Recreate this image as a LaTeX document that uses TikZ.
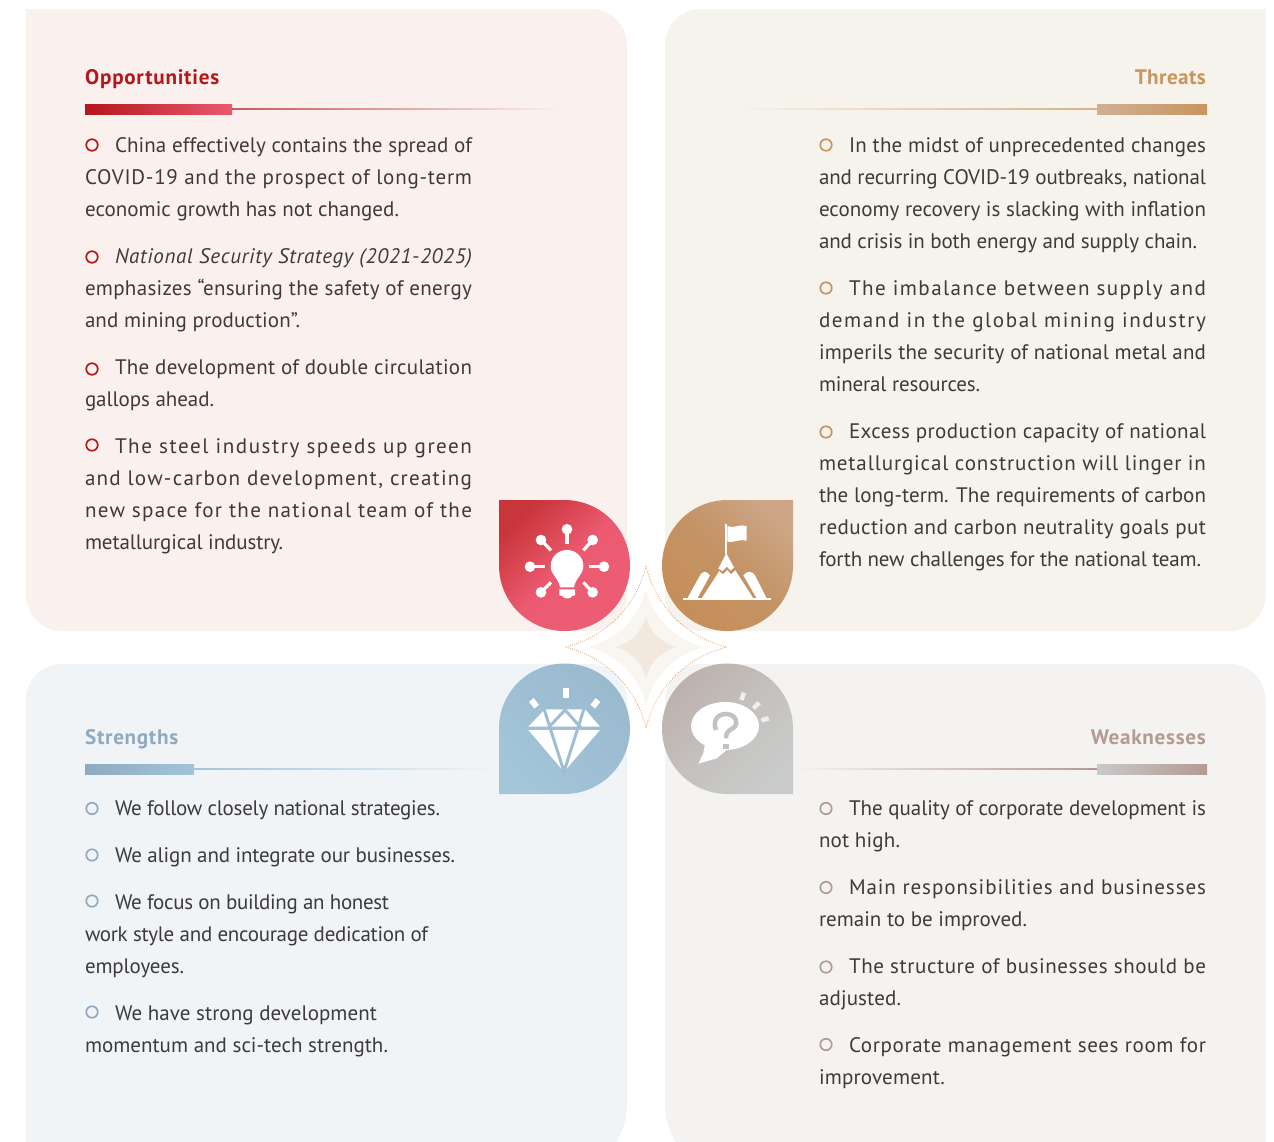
\documentclass[tikz,border=0pt]{standalone}
\usepackage{graphicx}
\usepackage{fontspec}
\setmainfont{PT Sans}
\definecolor{txt}{HTML}{3E3A39}
\definecolor{pO}{HTML}{FAF1EF}
\definecolor{pT}{HTML}{F6F2EC}
\definecolor{pS}{HTML}{F1F4F7}
\definecolor{pW}{HTML}{F5F3F1}
\definecolor{cO}{HTML}{B5161B}
\definecolor{cO2}{HTML}{EA5A70}
\definecolor{cT}{HTML}{C8955F}
\definecolor{cT2}{HTML}{CFB094}
\definecolor{cS}{HTML}{8FAAC0}
\definecolor{cS2}{HTML}{A2C4D8}
\definecolor{cW}{HTML}{B39A92}
\definecolor{cW2}{HTML}{C8C9C9}
\definecolor{dotc}{HTML}{D8935C}
\definecolor{stA}{HTML}{F9F5F0}
\definecolor{stB}{HTML}{F3E8DD}
\definecolor{dRa}{HTML}{C8353A}
\definecolor{dRb}{HTML}{EC5D73}
\definecolor{dRm}{HTML}{EB5A70}
\definecolor{dBa}{HTML}{CBA585}
\definecolor{dBb}{HTML}{C58F5A}
\definecolor{dBm}{HTML}{C49263}
\definecolor{dLa}{HTML}{9ABACE}
\definecolor{dLb}{HTML}{A3C5D9}
\definecolor{dLm}{HTML}{9EBFD3}
\definecolor{dGa}{HTML}{BDB1AD}
\definecolor{dGb}{HTML}{C9CBCA}
\definecolor{dGm}{HTML}{C4C1BE}
\definecolor{rayc}{HTML}{F0EFEE}
\newbox\fitbox
\ExplSyntaxOn
\cs_new:Npn \charcnt #1 {\tl_count:n {#1}}
\ExplSyntaxOff
\newcommand\fitl[2]{\rule[-9.6pt]{0pt}{32pt}\setbox\fitbox\hbox{#2}%
  \pgfmathsetmacro\lsp{(#1-\the\wd\fitbox)*100/(\charcnt{#2}*21)}%
  \edef\lsptmp{\noexpand\addfontfeatures{LetterSpace=\lsp}}%
  \resizebox{#1pt}{\height}{\lsptmp #2}}
\newcommand\ind{\hspace*{30pt}}
\newcommand\starshape[1]{%
  (646,647-#1) .. controls (646+0.12*#1,647-0.5*#1) and (646+0.5*#1,647-0.12*#1) .. (646+#1,647)
  .. controls (646+0.5*#1,647+0.12*#1) and (646+0.12*#1,647+0.5*#1) .. (646,647+#1)
  .. controls (646-0.12*#1,647+0.5*#1) and (646-0.5*#1,647+0.12*#1) .. (646-#1,647)
  .. controls (646-0.5*#1,647-0.12*#1) and (646-0.12*#1,647-0.5*#1) .. (646,647-#1) -- cycle}
\tikzset{
  para/.style={anchor=north west,yshift=-14pt,inner sep=0pt,outer sep=0pt,align=left,text=txt,font=\fontsize{21}{32}\selectfont},
  ttlw/.style={anchor=base west,inner sep=0pt,font=\fontsize{21}{32}\selectfont\bfseries},
  ttle/.style={anchor=base east,inner sep=0pt,font=\fontsize{21}{32}\selectfont\bfseries},
  bul/.style={circle,draw=#1,line width=1.7pt,fill=none,minimum size=11.5pt,inner sep=0pt},
  zoomed/.style={shift={(490,490)},x=0.33333pt,y=-0.33333pt},
}
\begin{document}
\begin{tikzpicture}[x=1pt,y=-1pt]
\useasboundingbox (0,0) rectangle (1274,1141);
\fill[white] (0,0) rectangle (1274,1141);
\begin{scope}
\clip (0,0) rectangle (1274,1141);
\fill[pO] (26,9) -- (591,9) .. controls (610.9,9) and (627,25.1) .. (627,45) -- (627,595) .. controls (627,614.9) and (610.9,631) .. (591,631) -- (62,631) .. controls (42.1,631) and (26,614.9) .. (26,595) -- cycle;
\fill[pT] (1265.5,9) -- (1265.5,595) .. controls (1265.5,614.9) and (1249.4,631) .. (1229.5,631) -- (701,631) .. controls (681.1,631) and (665,614.9) .. (665,595) -- (665,45) .. controls (665,25.1) and (681.1,9) .. (701,9) -- cycle;
\fill[pS] (26,1158) -- (26,700) .. controls (26,680.1) and (42.1,664) .. (62,664) -- (591,664) .. controls (610.9,664) and (627,680.1) .. (627,700) -- (627,1103) .. controls (627,1133.4) and (610.4,1158) .. (590,1158) -- cycle;
\fill[pW] (1265.5,1158) -- (1265.5,700) .. controls (1265.5,680.1) and (1249.4,664) .. (1229.5,664) -- (701,664) .. controls (681.1,664) and (665,680.1) .. (665,700) -- (665,1103) .. controls (665,1133.4) and (681.6,1158) .. (702,1158) -- cycle;
\end{scope}
% rules
\shade[left color=cO,right color=cO2] (85,104) rectangle (232,114);
\shade[left color=cO!70!pO,right color=pO] (232,108) rectangle (562,109.5);
\shade[left color=cT2,right color=cT] (1097,104) rectangle (1207,114);
\shade[left color=pT,right color=cT!70!pT] (735,108) rectangle (1097,109.5);
\shade[left color=cS,right color=cS2] (85,764) rectangle (194,774);
\shade[left color=cS2,right color=pS] (194,768.3) rectangle (499,769.8);
\shade[left color=cW2,right color=cW] (1097,764) rectangle (1207,774);
\shade[left color=pW,right color=cW] (793,768.3) rectangle (1097,769.8);
% titles
\node[ttlw,text=cO] (tO) at (85,84) {\fitl{134}{Opportunities}};
\node[ttle,text=cT] (tT) at (1206,84) {\fitl{71}{Threats}};
\node[ttlw,text=cS] (tS) at (85,744) {\fitl{93}{Strengths}};
\node[ttle,text=cW] (tW) at (1206,744) {\fitl{115}{Weaknesses}};
% Opportunities
\node[bul=cO] (bO1) at (92,145) {};
\node[para] (O1) at (85,115.6) {\ind\fitl{357}{China effectively contains the spread of}\\\fitl{387}{COVID-19 and the prospect of long-term}\\\fitl{314}{economic growth has not changed.}};
\node[bul=cO] (bO2) at (92,257) {};
\node[para] (O2) at (85,226.6) {\ind{\itshape\fitl{357}{National Security Strategy (2021-2025)}}\\\fitl{387}{emphasizes “ensuring the safety of energy}\\\fitl{215}{and mining production”.}};
\node[bul=cO] (bO3) at (92,369) {};
\node[para] (O3) at (85,337.6) {\ind\fitl{357}{The development of double circulation}\\\fitl{129}{gallops ahead.}};
\node[bul=cO] (bO4) at (92,445) {};
\node[para] (O4) at (85,416.6) {\ind\fitl{357}{The steel industry speeds up green}\\\fitl{387}{and low-carbon development, creating}\\\fitl{387}{new space for the national team of the}\\\fitl{198}{metallurgical industry.}};
% Threats
\node[bul=cT] (bT1) at (826,145) {};
\node[para] (T1) at (819,115.6) {\ind\fitl{357}{In the midst of unprecedented changes}\\\fitl{387}{and recurring COVID-19 outbreaks, national}\\\fitl{387}{economy recovery is slacking with inflation}\\\fitl{378}{and crisis in both energy and supply chain.}};
\node[bul=cT] (bT2) at (826,288) {};
\node[para] (T2) at (819,258.6) {\ind\fitl{357}{The imbalance between supply and}\\\fitl{387}{demand in the global mining industry}\\\fitl{387}{imperils the security of national metal and}\\\fitl{161}{mineral resources.}};
\node[bul=cT] (bT3) at (826,432) {};
\node[para] (T3) at (819,401.6) {\ind\fitl{357}{Excess production capacity of national}\\\fitl{387}{metallurgical construction will linger in}\\\fitl{387}{the long-term. The requirements of carbon}\\\fitl{387}{reduction and carbon neutrality goals put}\\\fitl{382}{forth new challenges for the national team.}};
% Strengths
\node[bul=cS] (bS1) at (92,808.5) {};
\node[para] (S1) at (85,778.6) {\ind\fitl{325}{We follow closely national strategies.}};
\node[bul=cS] (bS2) at (92,855) {};
\node[para] (S2) at (85,825.6) {\ind\fitl{340}{We align and integrate our businesses.}};
\node[bul=cS] (bS3) at (92,901) {};
\node[para] (S3) at (85,872.6) {\ind\fitl{274}{We focus on building an honest}\\\fitl{343}{work style and encourage dedication of}\\\fitl{99}{employees.}};
\node[bul=cS] (bS4) at (92,1012) {};
\node[para] (S4) at (85,983.6) {\ind\fitl{262}{We have strong development}\\\fitl{303}{momentum and sci-tech strength.}};
% Weaknesses
\node[bul=cW] (bW1) at (826,808.5) {};
\node[para] (W1) at (819,778.6) {\ind\fitl{357}{The quality of corporate development is}\\\fitl{81}{not high.}};
\node[bul=cW] (bW2) at (826,887.5) {};
\node[para] (W2) at (819,857.6) {\ind\fitl{357}{Main responsibilities and businesses}\\\fitl{208}{remain to be improved.}};
\node[bul=cW] (bW3) at (826,967) {};
\node[para] (W3) at (819,936.6) {\ind\fitl{357}{The structure of businesses should be}\\\fitl{82}{adjusted.}};
\node[bul=cW] (bW4) at (826,1044.5) {};
\node[para] (W4) at (819,1015.6) {\ind\fitl{357}{Corporate management sees room for}\\\fitl{126}{improvement.}};
% star
\fill[stA] \starshape{58};
\fill[stB] \starshape{31};
\draw[dotc,line width=1pt,line cap=round,dash pattern=on 0pt off 2.2pt] \starshape{81};
% drops
\shade[top color=dRa,bottom color=dRb,middle color=dRm,shading angle=45]
 (499,500) -- (564.5,500) .. controls (600.7,500) and (630,529.3) .. (630,565.5) .. controls (630,601.7) and (600.7,631) .. (564.5,631) .. controls (528.3,631) and (499,601.7) .. (499,565.5) -- cycle;
\shade[top color=dBa,bottom color=dBb,middle color=dBm,shading angle=-45]
 (793,500) -- (727.5,500) .. controls (691.3,500) and (662,529.3) .. (662,565.5) .. controls (662,601.7) and (691.3,631) .. (727.5,631) .. controls (763.7,631) and (793,601.7) .. (793,565.5) -- cycle;
\shade[top color=dLa,bottom color=dLb,middle color=dLm,shading angle=-45]
 (499,794) -- (564.5,794) .. controls (600.7,794) and (630,764.7) .. (630,728.5) .. controls (630,692.3) and (600.7,663.5) .. (564.5,663.5) .. controls (528.3,663.5) and (499,692.3) .. (499,728.5) -- cycle;
\shade[top color=dGa,bottom color=dGb,middle color=dGm,shading angle=45]
 (793,794) -- (727.5,794) .. controls (691.3,794) and (662,764.7) .. (662,728.5) .. controls (662,692.3) and (691.3,663.5) .. (727.5,663.5) .. controls (763.7,663.5) and (793,692.3) .. (793,728.5) -- cycle;
% icons (zoomed frame)
\begin{scope}[zoomed]
% bulb
\fill[white] (210,292) .. controls (205,262) and (182,255) .. (182,228) .. controls (182,200) and (205,180) .. (231,180) .. controls (257,180) and (280,200) .. (280,228) .. controls (280,255) and (257,262) .. (252,292) -- cycle;
\fill[white] (208,298) -- (255,298) -- (255,316) -- (246,318) .. controls (242,328) and (222,328) .. (217,318) -- (208,316) -- cycle;
\foreach \bx/\by/\ex/\ey in {231/118/231/163,342/230/298/230,120/230/165/230,308/150/280/181,153/150/183/181,153/307/183/277,308/307/280/277}{
  \fill[white] (\bx,\by) circle[radius=16];
  \draw[white,line width=3.2pt] (\bx,\by) -- (\ex,\ey);
}
% mountain
\fill[white] (578,325) rectangle (842,330);
\fill[white] (706,102) rectangle (712,192);
\fill[white] (712,108) .. controls (730,118) and (750,100) .. (770,108) -- (770,152) .. controls (750,145) and (730,160) .. (712,155) -- cycle;
\fill[white] (709,190) -- (732,232) -- (722,242) -- (711,230) -- (698,243) -- (685,236) -- cycle;
\fill[white] (688,243) -- (699,253) -- (712,240) -- (723,253) -- (736,241) -- (790,325) -- (635,325) -- cycle;
\fill[white] (592,325) -- (630,256) .. controls (637,243) and (650,241) .. (660,256) -- (622,325) -- cycle;
\fill[white] (830,325) -- (795,256) .. controls (788,243) and (770,241) .. (760,256) -- (800,325) -- cycle;
% diamond
\fill[white] (165,658) -- (285,658) -- (330,710) -- (115,710) -- cycle;
\fill[white] (115,720) -- (330,720) -- (222,845) -- cycle;
\draw[dLm,line width=3pt] (160,650) -- (222,845) -- (284,650);
\draw[dLm,line width=3pt] (176,712) -- (225,660) -- (272,712);
\fill[white] (219,593) rectangle (237,623);
\draw[white,line width=6pt] (124,630) -- (140,650);
\draw[white,line width=6pt] (324,630) -- (308,650);
% bubble
\fill[white] (705,708) ellipse[x radius=102,y radius=72];
\fill[white] (645,760) -- (640,790) -- (625,821) -- (680,805) -- (710,780) -- cycle;
\draw[dGm,line width=4.5pt] (678,720) .. controls (668,695) and (680,672) .. (708,672) .. controls (735,672) and (748,698) .. (732,712) .. controls (720,722) and (708,722) .. (708,745);
\fill[dGm] (700,762) rectangle (716,776);
\draw[rayc,line width=4.5pt] (762,608) -- (754,630);
\draw[rayc,line width=4.5pt] (808,638) -- (790,655);
\draw[rayc,line width=4.5pt] (836,685) -- (814,691);
\end{scope}
\end{tikzpicture}
\end{document}
